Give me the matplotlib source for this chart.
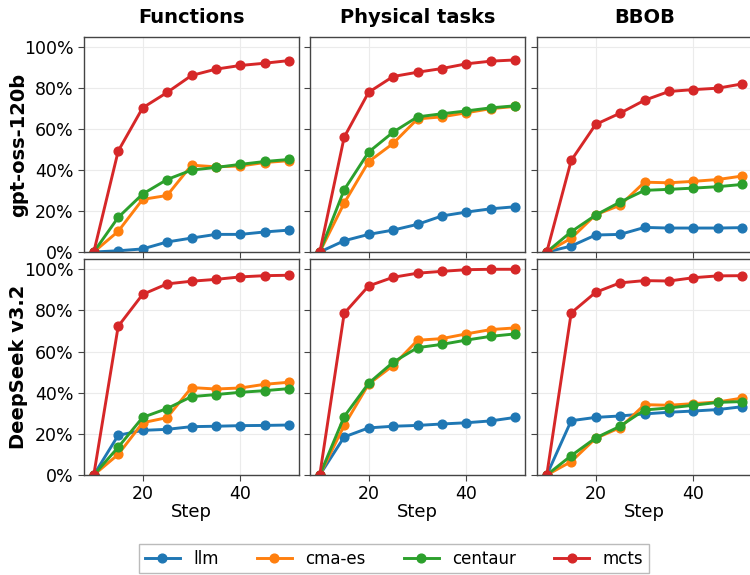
import matplotlib
matplotlib.use("Agg")
import matplotlib.pyplot as plt
from matplotlib.ticker import PercentFormatter

steps = [10, 15, 20, 25, 30, 35, 40, 45, 50]
methods = ["llm", "cma-es", "centaur", "mcts"]
colors = ["#1f77b4", "#ff7f0e", "#2ca02c", "#d62728"]
tasks = ["Functions", "Physical tasks", "BBOB"]
models = ["gpt-oss-120b", "DeepSeek v3.2"]

# gpt-oss-120b
gpt_functions_llm = [0, 0.006, 0.015, 0.049, 0.068, 0.086, 0.086, 0.098, 0.107]
gpt_functions_cma = [0, 0.101, 0.257, 0.276, 0.424, 0.416, 0.420, 0.437, 0.446]
gpt_functions_centaur = [0, 0.169, 0.283, 0.354, 0.400, 0.413, 0.428, 0.442, 0.452]
gpt_functions_mcts = [0, 0.493, 0.704, 0.779, 0.862, 0.893, 0.911, 0.922, 0.935]

gpt_physical_llm = [0, 0.055, 0.086, 0.107, 0.135, 0.176, 0.195, 0.211, 0.221]
gpt_physical_cma = [0, 0.239, 0.441, 0.530, 0.650, 0.660, 0.680, 0.700, 0.711]
gpt_physical_centaur = [0, 0.304, 0.488, 0.585, 0.660, 0.675, 0.689, 0.704, 0.714]
gpt_physical_mcts = [0, 0.561, 0.780, 0.857, 0.878, 0.896, 0.919, 0.932, 0.938]

gpt_bbob_llm = [0, 0.029, 0.083, 0.086, 0.120, 0.117, 0.117, 0.117, 0.119]
gpt_bbob_cma = [0, 0.067, 0.182, 0.228, 0.341, 0.338, 0.345, 0.354, 0.371]
gpt_bbob_centaur = [0, 0.099, 0.180, 0.244, 0.301, 0.306, 0.312, 0.319, 0.330]
gpt_bbob_mcts = [0, 0.447, 0.623, 0.678, 0.741, 0.784, 0.793, 0.800, 0.821]

# DeepSeek v3.2
ds_functions_llm = [0, 0.193, 0.217, 0.222, 0.235, 0.237, 0.240, 0.241, 0.243]
ds_functions_cma = [0, 0.100, 0.254, 0.279, 0.425, 0.418, 0.423, 0.441, 0.451]
ds_functions_centaur = [0, 0.135, 0.280, 0.323, 0.381, 0.391, 0.402, 0.410, 0.420]
ds_functions_mcts = [0, 0.723, 0.878, 0.929, 0.942, 0.951, 0.963, 0.969, 0.971]

ds_physical_llm = [0, 0.185, 0.229, 0.237, 0.241, 0.248, 0.254, 0.263, 0.280]
ds_physical_cma = [0, 0.241, 0.442, 0.532, 0.655, 0.663, 0.686, 0.707, 0.715]
ds_physical_centaur = [0, 0.284, 0.446, 0.548, 0.619, 0.635, 0.656, 0.674, 0.686]
ds_physical_mcts = [0, 0.786, 0.919, 0.961, 0.981, 0.990, 0.998, 1.000, 1.000]

ds_bbob_llm = [0, 0.264, 0.280, 0.287, 0.297, 0.305, 0.311, 0.318, 0.332]
ds_bbob_cma = [0, 0.065, 0.178, 0.230, 0.342, 0.339, 0.347, 0.355, 0.374]
ds_bbob_centaur = [0, 0.094, 0.180, 0.237, 0.316, 0.326, 0.339, 0.353, 0.357]
ds_bbob_mcts = [0, 0.788, 0.888, 0.934, 0.945, 0.943, 0.959, 0.968, 0.969]

data = [
    [[gpt_functions_llm, gpt_functions_cma, gpt_functions_centaur, gpt_functions_mcts],
     [gpt_physical_llm, gpt_physical_cma, gpt_physical_centaur, gpt_physical_mcts],
     [gpt_bbob_llm, gpt_bbob_cma, gpt_bbob_centaur, gpt_bbob_mcts]],
    [[ds_functions_llm, ds_functions_cma, ds_functions_centaur, ds_functions_mcts],
     [ds_physical_llm, ds_physical_cma, ds_physical_centaur, ds_physical_mcts],
     [ds_bbob_llm, ds_bbob_cma, ds_bbob_centaur, ds_bbob_mcts]],
]

fig = plt.figure(figsize=(7.5, 5.75), dpi=100)
W, H = 750.0, 575.0
lefts = [84, 310, 537]
aw = 215
rows = [(37, 252), (259, 475)]

handles = None
for r, (top, bot) in enumerate(rows):
    for c, left in enumerate(lefts):
        ax = fig.add_axes([left / W, (H - bot) / H, aw / W, (bot - top) / H])
        hs = []
        for m, col, ys in zip(methods, colors, data[r][c]):
            h, = ax.plot(steps, ys, color=col, marker="o", lw=2.1, ms=6.3, label=m)
            hs.append(h)
        handles = hs
        ax.set_xlim(8, 52)
        ax.set_ylim(0, 1.05)
        ax.set_yticks([0, 0.2, 0.4, 0.6, 0.8, 1.0])
        ax.set_xticks([20, 40])
        ax.yaxis.set_major_formatter(PercentFormatter(1.0, decimals=0))
        ax.grid(True, color="#ebebeb", lw=0.8)
        ax.set_axisbelow(True)
        for s in ax.spines.values():
            s.set_color("#444444")
            s.set_linewidth(1.0)
        ax.tick_params(colors="#444444", labelcolor="black", labelsize=12.5, length=4)
        if c != 0:
            ax.tick_params(labelleft=False)
        else:
            ax.set_ylabel(models[r], fontsize=14, fontweight="bold", labelpad=-3)
        if r == 0:
            ax.tick_params(labelbottom=False)
            ax.set_title(tasks[c], fontsize=14, fontweight="bold", pad=10)
        else:
            ax.set_xlabel("Step", fontsize=13, labelpad=0)

leg = fig.legend(handles, methods, loc="lower center", ncol=4,
                 bbox_to_anchor=(394 / W, 0.0), fontsize=12, frameon=True,
                 fancybox=False, edgecolor="#aaaaaa", handlelength=2.1,
                 handletextpad=0.8, columnspacing=2.3, borderpad=0.35,
                 borderaxespad=0.1)
leg.get_frame().set_linewidth(1.0)

fig.savefig("out.png", dpi=100)
